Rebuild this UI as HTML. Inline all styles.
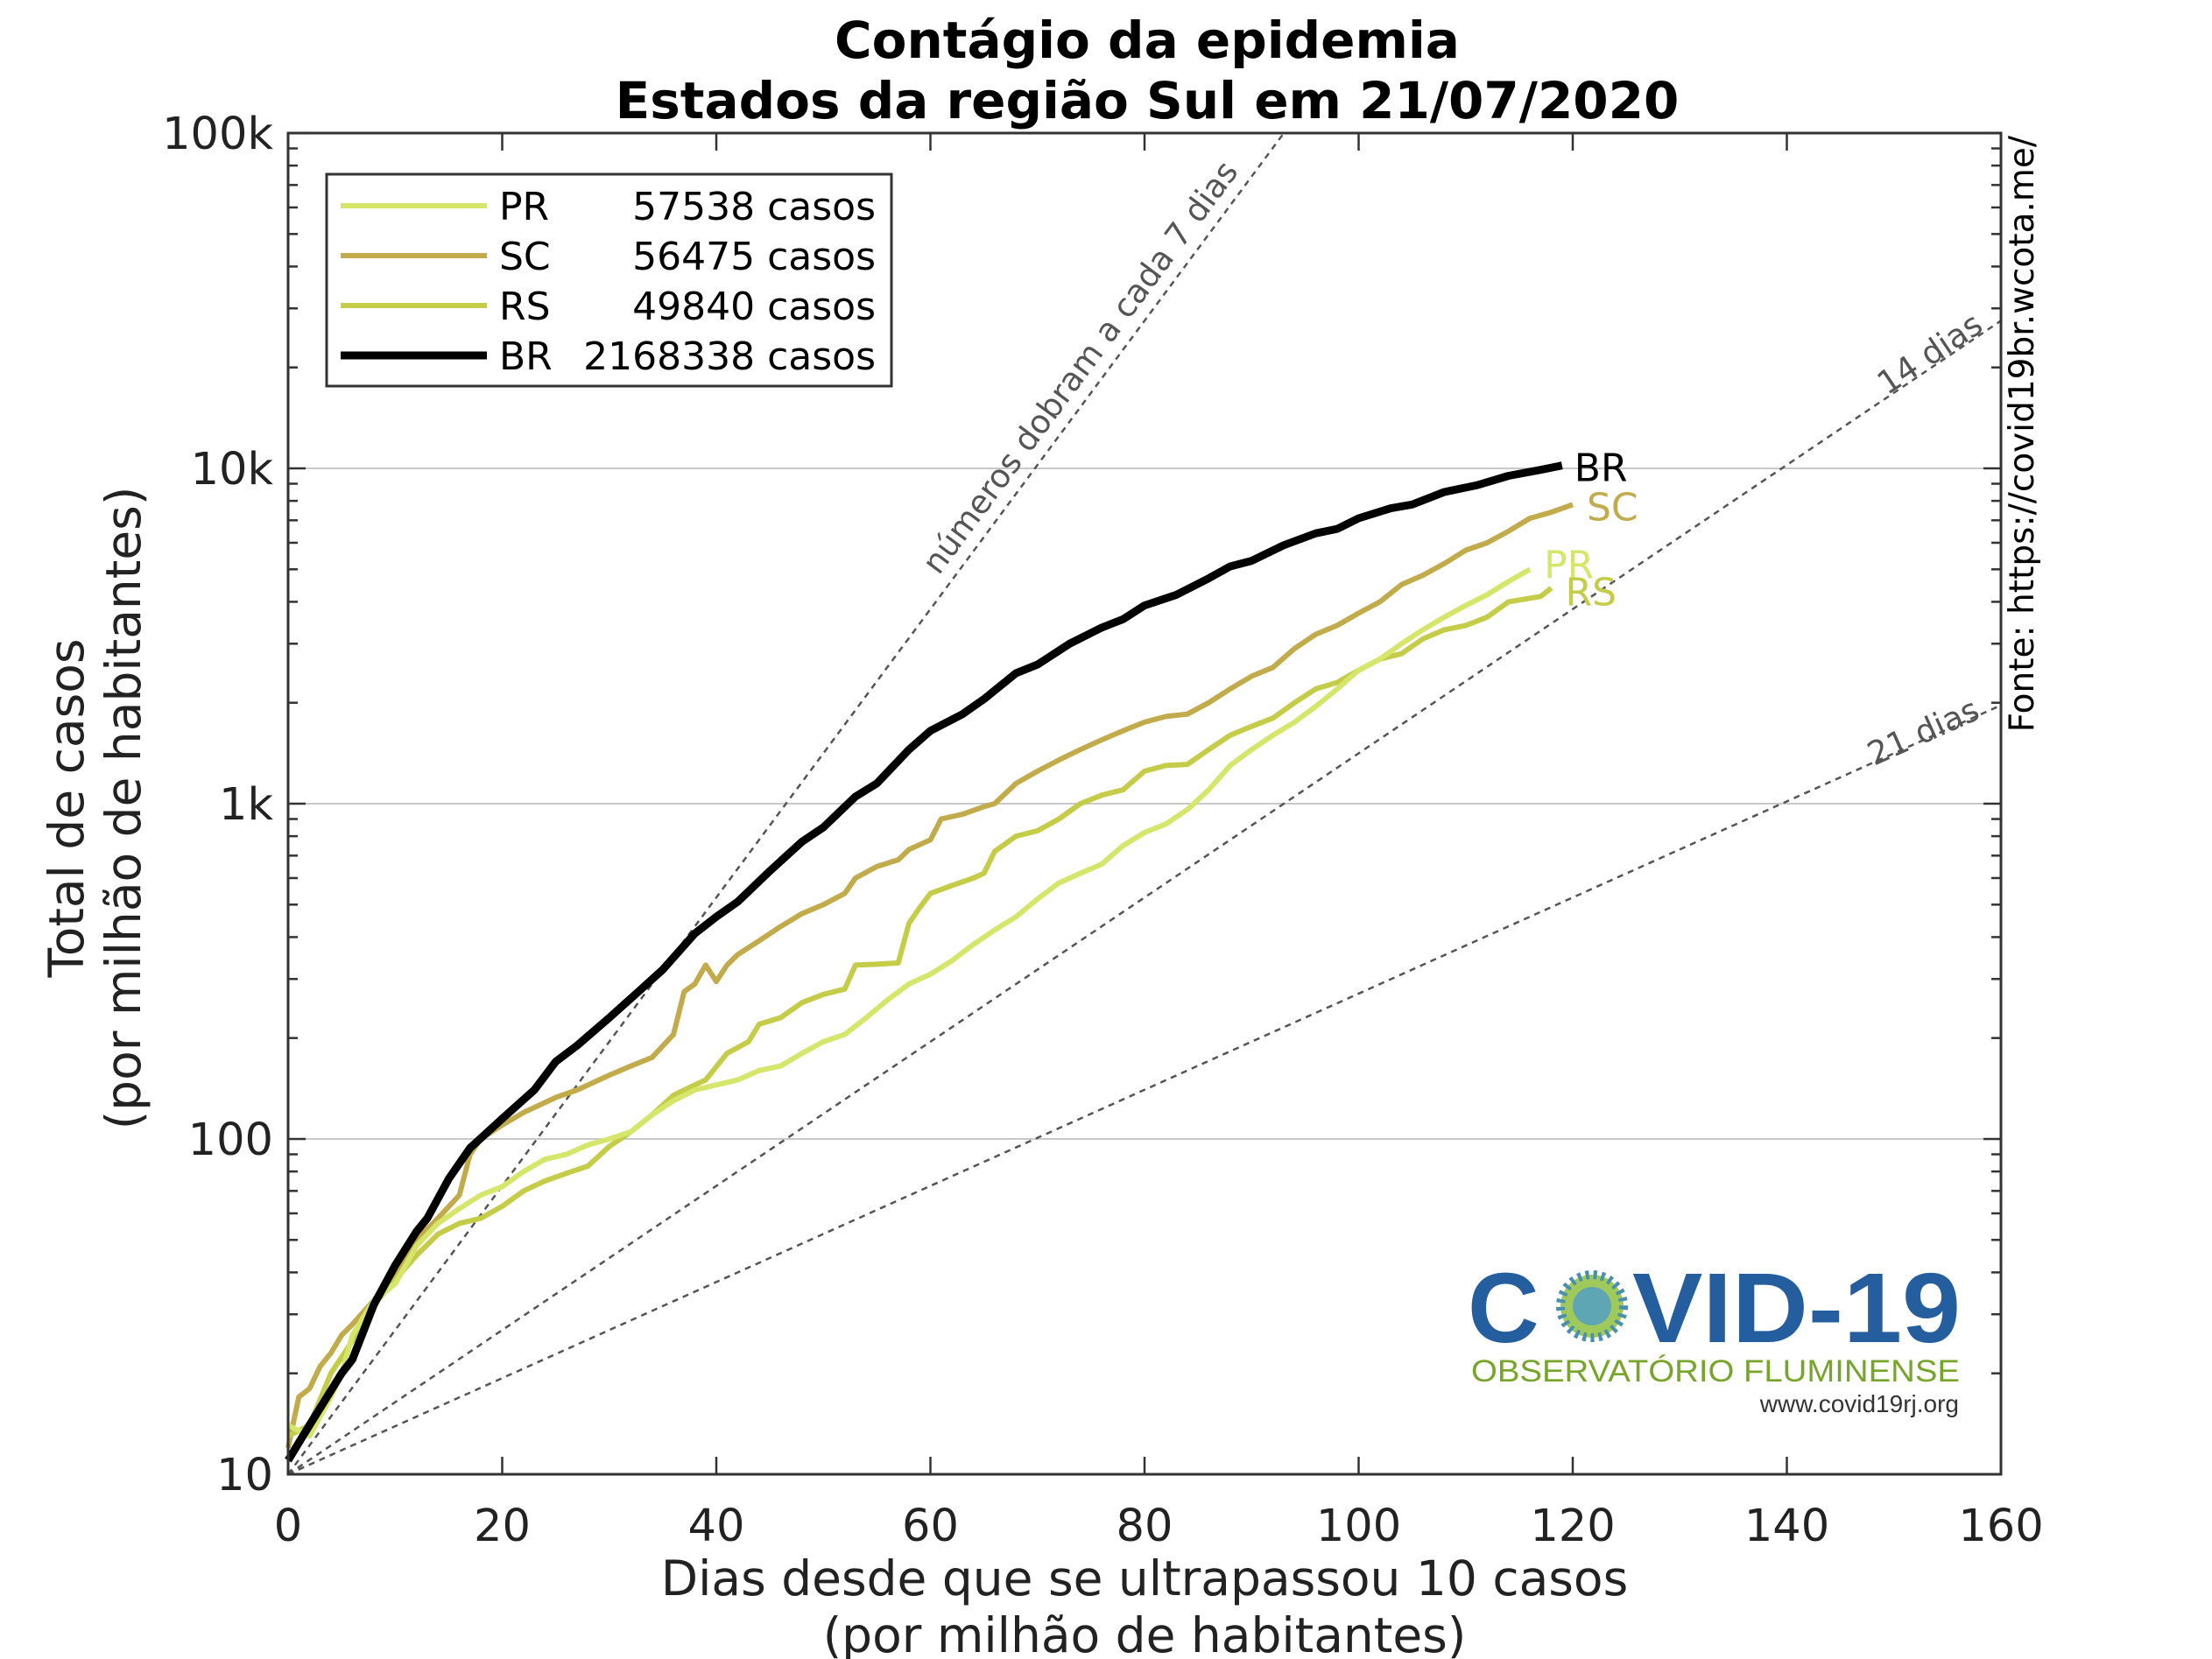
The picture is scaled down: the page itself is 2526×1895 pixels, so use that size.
<!DOCTYPE html>
<html><head><meta charset="utf-8"><style>
html,body{margin:0;padding:0;background:#fff;}
svg{display:block;font-family:"DejaVu Sans","Liberation Sans",sans-serif;}
</style></head><body>
<svg id="chart" width="2526" height="1895" viewBox="0 0 2526 1895" xmlns="http://www.w3.org/2000/svg">
<rect width="2526" height="1895" fill="#fff"/>
<g id="grid"></g>
<g id="refs"></g>
<g id="series"></g>
<g id="axes"></g>
<text x="1310" y="66" text-anchor="middle" font-weight="bold" font-size="58">Contágio da epidemia</text>
<text x="1310" y="135" text-anchor="middle" font-weight="bold" font-size="58">Estados da região Sul em 21/07/2020</text>
<text transform="translate(95,923) rotate(-90)" text-anchor="middle" font-size="55" fill="#222">Total de casos</text>
<text transform="translate(160,923) rotate(-90)" text-anchor="middle" font-size="55" fill="#222">(por milhão de habitantes)</text>
<text x="1307" y="1822" text-anchor="middle" font-size="55" fill="#222">Dias desde que se ultrapassou 10 casos</text>
<text x="1307" y="1887" text-anchor="middle" font-size="55" fill="#222">(por milhão de habitantes)</text>
<text transform="translate(2322,155) rotate(-90)" text-anchor="end" font-size="39" fill="#000">Fonte: https://covid19br.wcota.me/</text>
<g id="legend">
<rect x="373" y="199" width="645" height="242" fill="#fff" stroke="#333" stroke-width="3"/>
</g>
<g>
<text x="1676" y="1533" font-family="Liberation Sans,sans-serif" font-weight="bold" font-size="113" fill="#245e9e">C</text>
<circle cx="1818" cy="1492" r="36" fill="#9fc95a" stroke="#4a8fb0" stroke-width="10" stroke-dasharray="4 5"/>
<circle cx="1818" cy="1492" r="22" fill="#5fa6b5"/>
<text x="1864" y="1533" font-family="Liberation Sans,sans-serif" font-weight="bold" font-size="113" fill="#245e9e" textLength="375" lengthAdjust="spacingAndGlyphs">VID-19</text>
<text x="1680" y="1578" font-family="Liberation Sans,sans-serif" font-size="35" fill="#77a52a" textLength="558" lengthAdjust="spacingAndGlyphs">OBSERVATÓRIO FLUMINENSE</text>
<text x="2237" y="1613" text-anchor="end" font-family="Liberation Sans,sans-serif" font-size="28" fill="#333">www.covid19rj.org</text>
</g>
</svg>
<script>
const prDays=[0,2,4,5,6,8,10,12,14,16,18,20,22,24,26,28,30,32,34,36,38,40,42,44,46,48,50,52,54,56,58,60,62,64,66,68,70,72,74,76,78,80,82,84,86,88,90,92,94,96,98,100,102,104,106,108,110,112,114,116];
const prVals=[14,13,17,20,26,33,37,48,56,62,68,72,80,87,90,96,100,105,118,130,140,145,150,160,165,180,195,205,230,260,290,310,340,380,420,460,520,580,620,660,750,820,870,960,1100,1300,1450,1600,1750,1950,2200,2500,2700,3000,3300,3600,3900,4200,4600,5000];
const scDays=[0,1,2,3,4,5,6,8,10,12,14,16,17,18,20,22,25,27,30,32,34,36,37,38,39,40,41,42,44,46,48,50,52,53,55,57,58,60,61,63,65,66,68,70,72,74,76,78,80,82,84,86,88,90,92,94,96,98,100,102,104,106,108,110,112,114,116,118,120];
const scVals=[12,17,18,21,23,26,28,33,40,50,58,68,90,100,110,120,133,140,155,165,175,205,275,290,330,295,330,355,390,430,470,500,540,600,650,680,730,780,900,930,980,1000,1150,1250,1350,1450,1550,1650,1750,1820,1850,2000,2200,2400,2550,2900,3200,3400,3700,4000,4500,4800,5200,5700,6000,6500,7100,7400,7800];
const rsDays=[0,2,4,6,8,10,12,14,16,18,20,22,24,26,28,30,32,34,36,38,39,41,43,44,46,48,50,52,53,55,57,58,59,60,62,64,65,66,68,70,72,74,76,78,80,82,84,86,88,90,92,94,96,98,100,102,104,106,108,110,112,114,116,117,118];
const rsVals=[13,14,20,25,32,38,45,52,56,58,63,70,75,79,83,95,105,118,135,145,150,180,195,220,230,255,270,280,330,332,335,440,490,540,570,600,620,720,800,830,900,1000,1060,1100,1250,1300,1310,1450,1600,1700,1800,2000,2200,2300,2500,2700,2800,3100,3300,3400,3600,4000,4100,4150,4400];
const brDays=[0,2,5,6,8,10,12,13,15,17,20,23,25,27,30,33,35,38,40,42,45,48,50,53,55,58,60,63,65,68,70,73,76,78,80,83,86,88,90,93,96,98,100,103,105,108,111,114,117,119];
const brVals=[11,14,20,22,32,42,53,58,76,94,115,140,170,190,230,280,320,410,460,510,630,770,850,1050,1150,1450,1650,1850,2050,2450,2600,3000,3350,3550,3900,4200,4700,5100,5300,5900,6400,6600,7100,7600,7800,8500,8900,9500,9900,10200];
const xTicks=[0,20,40,60,80,100,120,140,160];
const yTicks=[10,100,1000,10000,100000];
const yTickLabels=["10","100","1k","10k","100k"];
const doublingDays=[7,14,21];
const legendLabels=["PR","SC","RS","BR"];
const legendCases=["57538 casos","56475 casos","49840 casos","2168338 casos"];

const L=329,R=2285,T=152,B=1684;
const NS="http://www.w3.org/2000/svg";
function sx(d){return L+(d-0)/(160-0)*(R-L);}
function sy(v){return B-(Math.log10(v)-1)/4*(B-T);}
function mk(tag,attrs,parent){const e=document.createElementNS(NS,tag);for(const k in attrs)e.setAttribute(k,attrs[k]);parent.appendChild(e);return e;}
const grid=document.getElementById('grid'),axes=document.getElementById('axes'),refs=document.getElementById('refs'),ser=document.getElementById('series'),leg=document.getElementById('legend');

[100,1000,10000].forEach(v=>{
  const g=mk('line',{x1:L,x2:R,y1:sy(v),y2:sy(v),stroke:'#c8c8c8','stroke-width':2},grid);
  
  
});

doublingDays.forEach(dd=>{
  let dEnd=160, vEnd=10*Math.pow(2,160/dd);
  if(vEnd>100000){dEnd=dd*Math.log2(10000);vEnd=100000;}
  const l=mk('line',{x1:sx(0),y1:sy(10),x2:sx(dEnd),y2:sy(vEnd),stroke:'#555','stroke-width':2.5,'stroke-dasharray':'7 6'},refs);
  
  
});
function refLabel(txt,x,y,ang,name){
  const t=mk('text',{transform:`translate(${x},${y}) rotate(${ang})`,'font-size':37,fill:'#555'},refs);
  t.textContent=txt;
  
  
}
refLabel('números dobram a cada 7 dias',1072,658,-53.4,'doubling-7-label');
refLabel('14 dias',2155,452,-34,'doubling-14-label');
refLabel('21 dias',2140,875,-24.2,'doubling-21-label');

function series(days,vals,color,w,name){
  const p=days.map((d,i)=>(i?'L':'M')+sx(d).toFixed(1)+','+sy(vals[i]).toFixed(1)).join(' ');
  const e=mk('path',{d:p,fill:'none',stroke:color,'stroke-width':w,'stroke-linejoin':'round'},ser);
  
  
}
series(scDays,scVals,'#c2ab4b',6,'series-sc');
series(rsDays,rsVals,'#c5cc48',6,'series-rs');
series(prDays,prVals,'#d5e66a',6,'series-pr');
series(brDays,brVals,'#000',9,'series-br');

function endLabel(txt,days,vals,color,dx,dy,name){
  const n=days.length-1;
  const t=mk('text',{x:sx(days[n])+dx,y:sy(vals[n])+dy,'font-size':44,fill:color},ser);
  t.textContent=txt;
  
  
}
endLabel('BR',brDays,brVals,'#000',14,18,'end-label-br');
endLabel('SC',scDays,scVals,'#c2ab4b',16,18,'end-label-sc');
endLabel('PR',prDays,prVals,'#d5e66a',16,10,'end-label-pr');
endLabel('RS',rsDays,rsVals,'#c5cc48',16,20,'end-label-rs');

const frame=mk('rect',{x:L,y:T,width:R-L,height:B-T,fill:'none',stroke:'#333','stroke-width':3},axes);


xTicks.forEach(d=>{
  mk('line',{x1:sx(d),x2:sx(d),y1:B,y2:B-20,stroke:'#333','stroke-width':2.5},axes);
  mk('line',{x1:sx(d),x2:sx(d),y1:T,y2:T+20,stroke:'#333','stroke-width':2.5},axes);
  const t=mk('text',{x:sx(d),y:1760,'text-anchor':'middle','font-size':51,fill:'#222'},axes);
  t.textContent=d;
  
  
});
yTicks.forEach((v,i)=>{
  mk('line',{x1:L,x2:L+20,y1:sy(v),y2:sy(v),stroke:'#333','stroke-width':2.5},axes);
  mk('line',{x1:R,x2:R-20,y1:sy(v),y2:sy(v),stroke:'#333','stroke-width':2.5},axes);
  const t=mk('text',{x:312,y:sy(v)+18,'text-anchor':'end','font-size':51,fill:'#222'},axes);
  t.textContent=yTickLabels[i];
  
  
  if(i<yTicks.length-1){for(let m=2;m<=9;m++){const y=sy(v*m);
    mk('line',{x1:L,x2:L+11,y1:y,y2:y,stroke:'#333','stroke-width':2.5},axes);
    mk('line',{x1:R,x2:R-11,y1:y,y2:y,stroke:'#333','stroke-width':2.5},axes);}}
});

const legColors=['#d5e66a','#c2ab4b','#c5cc48','#000'];
const legW=[6,6,6,9];
legendLabels.forEach((lab,i)=>{
  const y=235+i*57;
  const l=mk('line',{x1:389,x2:556,y1:y,y2:y,stroke:legColors[i],'stroke-width':legW[i]},leg);
  
  
  const t=mk('text',{x:570,y:y+16,'font-size':44,fill:'#000'},leg);
  t.textContent=lab;
  
  
  const c=mk('text',{x:1000,y:y+16,'text-anchor':'end','font-size':44,fill:'#000'},leg);
  c.textContent=legendCases[i];
  
  
});
</script>
</body></html>
